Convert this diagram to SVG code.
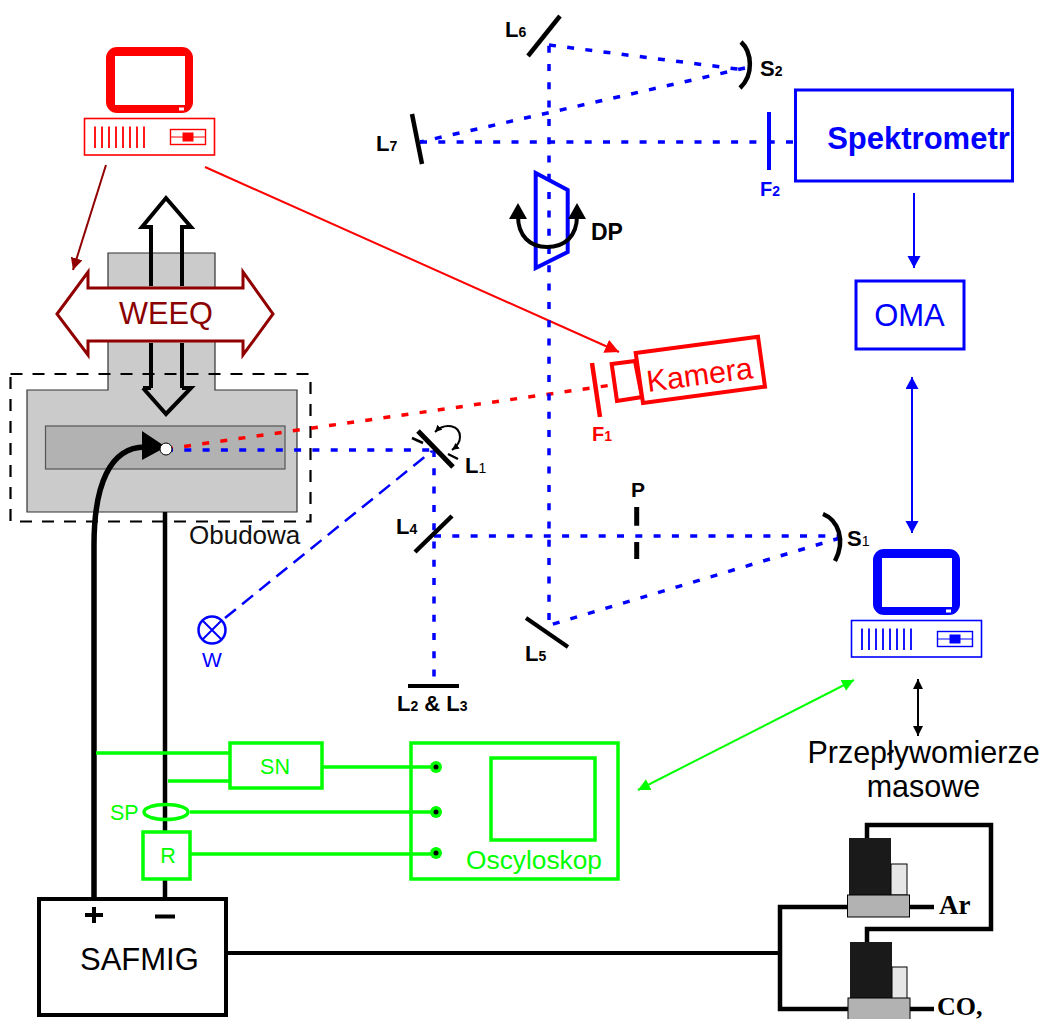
<svg xmlns="http://www.w3.org/2000/svg" width="1043" height="1019" viewBox="0 0 1043 1019">
<style>
text{font-family:"Liberation Sans",Arial,sans-serif}
.lb{font-weight:bold;font-size:22px;fill:#000}
.sub{font-size:14px;font-weight:normal}
.subb{font-size:14px;font-weight:bold}
.blue{stroke:#0000ff}
.red{stroke:#ff0000}
.grn{stroke:#00ff00}
.blk{stroke:#000}
.nf{fill:none}
.dash{stroke-width:3.500;stroke-dasharray:7 11.300;fill:none}
.tm{font-family:"Liberation Serif","Times New Roman",serif;font-weight:bold;font-size:27px;fill:#000}
.g{fill:#00ff00}
</style>
<defs>
<marker id="aB" markerUnits="userSpaceOnUse" markerWidth="14" markerHeight="14" refX="12" refY="6.500" orient="auto-start-reverse"><path d="M0,0L12,6.500L0,13z" fill="#0000ff"/></marker>
<marker id="aG" markerUnits="userSpaceOnUse" markerWidth="14" markerHeight="14" refX="12" refY="6" orient="auto-start-reverse"><path d="M0,0L12,6L0,12z" fill="#00ff00"/></marker>
<marker id="aK" markerUnits="userSpaceOnUse" markerWidth="12" markerHeight="12" refX="10" refY="5" orient="auto-start-reverse"><path d="M0,0L10,5L0,10z" fill="#000"/></marker>
<marker id="aR" markerUnits="userSpaceOnUse" markerWidth="16" markerHeight="16" refX="14" refY="7" orient="auto"><path d="M0,0L14,7L0,14z" fill="#ff0000"/></marker>
<marker id="aD" markerUnits="userSpaceOnUse" markerWidth="14" markerHeight="14" refX="12" refY="6" orient="auto"><path d="M0,0L12,6L0,12z" fill="#900000"/></marker>
<marker id="aS" markerUnits="userSpaceOnUse" markerWidth="8" markerHeight="8" refX="7" refY="3.500" orient="auto-start-reverse"><path d="M0,0L7,3.500L0,7z" fill="#000"/></marker>
<g id="pc">
<rect x="106" y="47" width="87" height="66" rx="11" fill="currentColor"/>
<rect x="115" y="56" width="70" height="49" fill="#fff"/>
<rect x="179" y="107.500" width="5" height="3" fill="#fff" stroke="none"/>
<rect x="84.500" y="118.500" width="130" height="36.500" fill="#fff" stroke="currentColor" stroke-width="1.600"/>
<path d="M95,126.500V148M102,126.500V148M109,126.500V148M116,126.500V148M123,126.500V148M130,126.500V148M137,126.500V148M144,126.500V148" stroke="currentColor" stroke-width="1.800" fill="none"/>
<rect x="170.500" y="129.500" width="35" height="15" fill="none" stroke="currentColor" stroke-width="1.400"/>
<path d="M170.500,137H205.500" stroke="currentColor" stroke-width="1"/>
<rect x="182.500" y="132.500" width="11" height="9" fill="currentColor"/>
</g>
</defs>

<g id="obudowa-block">
<path d="M108,253H215V390H297V512H27V390H108z" fill="#cbcbcb" stroke="#333" stroke-width="1.200"/>
<rect x="45.500" y="426" width="239.500" height="43" fill="#b2b2b2" stroke="#555" stroke-width="1.200"/>
<rect x="10.500" y="374" width="300" height="147.500" fill="none" stroke="#000" stroke-width="2.200" stroke-dasharray="12 10"/>
<text x="189" y="544" font-size="26" fill="#111">Obudowa</text>
</g>

<g id="connectors">
<path d="M94,899V545C94,485 110,447 145,447" class="blk nf" stroke-width="5.500"/>
<path d="M165,512V899" class="blk nf" stroke-width="4.500"/>
<path d="M142,431L166,447L142,460z" fill="#000"/>
<path d="M106,165L73,270" stroke="#900000" stroke-width="2" fill="none" marker-end="url(#aD)"/>
<path d="M205,167L619,352" class="red nf" stroke-width="2" marker-end="url(#aR)"/>
<path d="M166,449L612,385" class="red dash"/>
<path d="M166,450H434" class="blue dash"/>
<path d="M434,450V680" class="blue dash"/>
<path d="M434,536H840" class="blue dash"/>
<path d="M840,538L550,625" class="blue dash"/>
<path d="M549,620V45" class="blue dash"/>
<path d="M549,45L745,70" class="blue dash"/>
<path d="M745,68L420,142" class="blue dash"/>
<path d="M420,142H795" class="blue dash"/>
<path d="M225,618L432,451" class="blue nf" stroke-width="2.500" stroke-dasharray="14 8"/>
<path d="M914,193V268" class="blue nf" stroke-width="2" marker-end="url(#aB)"/>
<path d="M912,377V533" class="blue nf" stroke-width="2" marker-start="url(#aB)" marker-end="url(#aB)"/>
<path d="M638,790L854,680" class="grn nf" stroke-width="2" marker-start="url(#aG)" marker-end="url(#aG)"/>
<path d="M918,679V736" class="blk nf" stroke-width="2" marker-start="url(#aK)" marker-end="url(#aK)"/>
<path d="M96,753H230M168,781H230M322,767H435M190,812H435M190,854H435" class="grn nf" stroke-width="3.500"/>
<path d="M226,953H780" class="blk nf" stroke-width="4"/>
<path d="M848,907H780V1009H848" class="blk nf" stroke-width="4.500"/>
<path d="M909,907H934M910,1009H934" class="blk nf" stroke-width="4.500"/>
<path d="M867,838V825H991V929H867V947" class="blk nf" stroke-width="4.500"/>
</g>

<g id="pc-red" style="color:#ff0000"><use href="#pc"/></g>
<g id="pc-blue" style="color:#0000ff"><use href="#pc" x="767" y="502"/></g>

<g id="weeq">
<path d="M151,253V227H142L166,198L191,227H182V253M143,388L166,414L191,388H182M151,388H143" fill="none" stroke="#000" stroke-width="4"/>
<path d="M57,314L88,272V288H243V272L273,314L243,355V341H88V355z" fill="#fff" stroke="#900000" stroke-width="3"/>
<path d="M151,343V388M182,343V388" fill="none" stroke="#000" stroke-width="4"/>
<path d="M151,227V286M182,227V286" fill="none" stroke="#000" stroke-width="4"/>
<text x="166" y="324" font-size="30.700" fill="#8b0000" text-anchor="middle">WEEQ</text>
</g>

<g id="source"><circle cx="166" cy="449" r="6" fill="#fff" stroke="#000"/></g>

<g id="kamera">
<path d="M611.700,364L635,361L642,397L617,401z" fill="#fff" class="red" stroke-width="4"/>
<path d="M635.700,353L758,336.700L765,386.700L643,403z" fill="#fff" class="red" stroke-width="4"/>
<text x="701" y="385" font-size="30.500" fill="#ff0000" text-anchor="middle" transform="rotate(-7.500 701 385)">Kamera</text>
</g>
<g id="F1"><path d="M592,363L600,417" class="red" stroke-width="4.500"/><text x="592" y="441" font-weight="bold" font-size="20" fill="#ff0000">F<tspan class="subb">1</tspan></text></g>

<g id="L1"><path d="M418,431L453,467" class="blk" stroke-width="5"/><path d="M412,438L423,443M448,454L458,459" class="blk" stroke-width="2.500"/><path d="M435,432C445,422 460,425 460,437C460,443 456,447 452,450" class="blk nf" stroke-width="2" marker-start="url(#aS)" marker-end="url(#aS)"/><text x="465" y="473" class="lb">L<tspan class="sub">1</tspan></text></g>
<g id="L4"><path d="M415,552L452,516" class="blk" stroke-width="4.500"/><text x="396" y="534" class="lb">L<tspan class="subb">4</tspan></text></g>
<g id="L5"><path d="M526,618L568,647" class="blk" stroke-width="4"/><text x="525" y="661" class="lb">L<tspan class="subb">5</tspan></text></g>
<g id="L6"><path d="M528,56L560,16" class="blk" stroke-width="4.500"/><text x="505" y="37" class="lb">L<tspan class="subb">6</tspan></text></g>
<g id="L7"><path d="M412,114L422,164" class="blk" stroke-width="4.500"/><text x="376" y="151" class="lb">L<tspan class="subb">7</tspan></text></g>
<g id="L2L3"><path d="M408,686H459" class="blk" stroke-width="4"/><text x="397" y="711" class="lb">L<tspan class="subb">2</tspan> &amp; L<tspan class="subb">3</tspan></text></g>
<g id="P"><path d="M636.700,507V525.700M636.700,542V559" class="blk" stroke-width="5"/><text x="638" y="497" class="lb" style="font-size:21px" text-anchor="middle">P</text></g>
<g id="S1"><path d="M823,514C838,520 846,540 835,561" class="blk nf" stroke-width="4.500"/><text x="847" y="546" class="lb">S<tspan class="sub">1</tspan></text></g>
<g id="S2"><path d="M741,42C752,52 754,75 740,88" class="blk nf" stroke-width="4.500"/><text x="760" y="76" class="lb">S<tspan class="subb">2</tspan></text></g>

<g id="DP">
<path d="M535.700,173L567.700,190V252L535.700,268z" fill="none" class="blue" stroke-width="4"/>
<path d="M518,216C518,236 530,247 547,247C565,247 577,236 577,216" class="blk nf" stroke-width="4"/>
<path d="M509,219L518,203L527,219zM568,219L577,203L586,219z" fill="#000"/>
<text x="591" y="240" class="lb" style="font-size:23px">DP</text>
</g>

<g id="spektrometr"><rect x="795.500" y="90" width="217" height="91" fill="#fff" class="blue" stroke-width="3"/><text x="918.500" y="149" font-size="31" font-weight="bold" fill="#0000ff" text-anchor="middle">Spektrometr</text></g>
<g id="F2"><path d="M769,112V170" class="blue" stroke-width="4"/><text x="760" y="196" font-weight="bold" font-size="20" fill="#0000ff">F<tspan class="subb">2</tspan></text></g>
<g id="oma"><rect x="856" y="281" width="108" height="68" fill="#fff" class="blue" stroke-width="3"/><text x="909.500" y="326" font-size="31" fill="#0000ff" text-anchor="middle">OMA</text></g>
<g id="przeplywomierze"><text x="923.500" y="763" font-size="30.500" fill="#000" text-anchor="middle">Przepływomierze</text><text x="923.500" y="797" font-size="30.500" fill="#000" text-anchor="middle">masowe</text></g>
<g id="W"><circle cx="212" cy="630" r="13.500" fill="#fff" class="blue" stroke-width="2.500"/><path d="M202.500,620.500L221.500,639.500M221.500,620.500L202.500,639.500" class="blue" stroke-width="2"/><text x="212" y="667" font-size="21" fill="#0000ff" text-anchor="middle">W</text></g>

<g id="SN"><rect x="230" y="743" width="92" height="45" fill="#fff" class="grn" stroke-width="3.500"/><text x="275" y="774" font-size="21.500" class="g" text-anchor="middle">SN</text></g>
<g id="SP"><ellipse cx="166" cy="812" rx="22" ry="7.500" fill="none" class="grn" stroke-width="3.500"/><text x="110" y="820" font-size="21.500" class="g">SP</text></g>
<g id="R"><rect x="143" y="832" width="47" height="47" fill="#fff" class="grn" stroke-width="3.500"/><text x="168" y="863" font-size="21.500" class="g" text-anchor="middle">R</text></g>
<g id="oscyloskop"><rect x="411" y="743" width="207" height="136" fill="none" class="grn" stroke-width="3.500"/><rect x="491" y="758" width="104" height="82" fill="none" class="grn" stroke-width="3.500"/><text x="534" y="869" font-size="26.300" class="g" text-anchor="middle">Oscyloskop</text>
<g><circle cx="436" cy="767" r="6" class="g"/><circle cx="436" cy="812" r="6" class="g"/><circle cx="436" cy="853" r="6" class="g"/><circle cx="436" cy="767" r="2.500"/><circle cx="436" cy="812" r="2.500"/><circle cx="436" cy="853" r="2.500"/></g></g>

<g id="safmig"><rect x="39" y="899" width="187" height="116" fill="#fff" class="blk" stroke-width="4"/><text x="80" y="970" font-size="31" fill="#000">SAFMIG</text><path d="M85,915H103M94,907V923M155,916.500H175" class="blk" stroke-width="4"/></g>

<g id="valve-ar"><rect x="849" y="838" width="42" height="57" fill="#1a1a1a"/><rect x="891" y="864" width="16" height="31" fill="#e6e6e6" class="blk" stroke-width="1"/><rect x="847.500" y="895" width="62" height="22" fill="#b2b2b2" class="blk" stroke-width="1"/><text x="939" y="914" class="tm">Ar</text></g>
<g id="valve-co2"><rect x="850" y="942" width="42" height="57" fill="#1a1a1a"/><rect x="892" y="967" width="15" height="32" fill="#e6e6e6" class="blk" stroke-width="1"/><rect x="848" y="998" width="62" height="24" fill="#b2b2b2" class="blk" stroke-width="1"/><text x="937" y="1015" class="tm" style="font-size:26px">CO,</text></g>
</svg>
